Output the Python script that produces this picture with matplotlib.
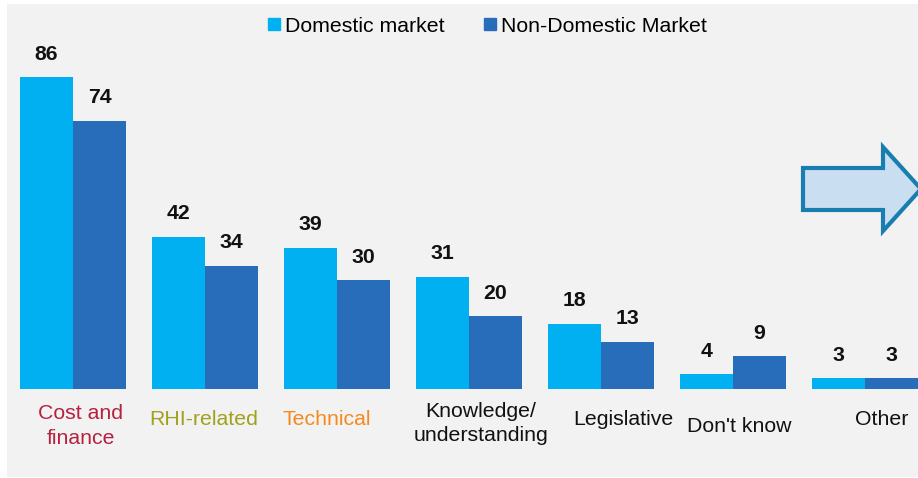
import matplotlib
matplotlib.use("Agg")
import matplotlib.pyplot as plt
from matplotlib.patches import Patch, Polygon
import numpy as np

plt.rcParams['font.family'] = ['Liberation Sans', 'DejaVu Sans']

categories = ["Cost and\nfinance", "RHI-related", "Technical", "Knowledge/\nunderstanding",
              "Legislative", "Don't know", "Other"]
domestic = [86, 42, 39, 31, 18, 4, 3]
non_domestic = [74, 34, 30, 20, 13, 9, 3]
series_names = ["Domestic market", "Non-Domestic Market"]

label_colors = ["#B5213F", "#A0A21C", "#F5891F", "#111111", "#111111", "#111111", "#111111"]
# label layout: (x offset in group units, y centre in data units)
label_layout = [(0.06, -10.2), (-0.01, -8.3), (-0.075, -8.3), (0.09, -9.6),
                (0.17, -8.3), (0.045, -10.2), (0.125, -8.3)]

W, H = 918, 478
fig = plt.figure(figsize=(W / 100, H / 100), dpi=100)
fig.patch.set_facecolor("white")

# panel in pixels: x 7..918, y 4..477
ax = fig.add_axes([7 / W, 1 - 477 / H, 911 / W, 473 / H])
ax.set_facecolor("#F2F2F2")
for s in ax.spines.values():
    s.set_visible(False)
ax.set_xticks([])
ax.set_yticks([])

scale = (389 - 77) / 86.0
ax.set_ylim(-(477 - 389) / scale, (389 - 4) / scale)
ax.set_xlim((7 - 73) / 132, (918 - 73) / 132)

x = np.arange(len(categories))
bw = 53 / 132
c1, c2 = "#00B0F0", "#286DBA"
b1 = ax.bar(x - bw / 2, domestic, bw, color=c1, edgecolor=c1, linewidth=0)
b2 = ax.bar(x + bw / 2, non_domestic, bw, color=c2, edgecolor=c2, linewidth=0)

fs = 15.3
for bars in (b1, b2):
    for r in bars:
        v = r.get_height()
        ax.annotate(f"{v:g}", (r.get_x() + r.get_width() / 2, v), xytext=(0, 16.5),
                    textcoords="offset points", ha="center", va="center",
                    fontsize=fs, fontweight="bold", color="#111111")

for i, (lab, col, (dx, yy)) in enumerate(zip(categories, label_colors, label_layout)):
    ax.text(i + dx, yy, lab, ha="center", va="center", fontsize=fs, color=col,
            linespacing=1.35)

handles = [Patch(facecolor=c1, edgecolor=c1), Patch(facecolor=c2, edgecolor=c2)]
ax.legend(handles, series_names, loc="center", bbox_to_anchor=(487.5 / W, 1 - 26 / H),
          bbox_transform=fig.transFigure, ncol=2, frameon=False, fontsize=fs,
          handlelength=0.55, handleheight=0.55, handletextpad=0.25, columnspacing=1.85,
          borderpad=0, borderaxespad=0)

# decorative block arrow
pts = [(803, 168), (883, 168), (883, 147), (921, 189), (883, 231), (883, 210), (803, 210)]
poly = Polygon([(px / W, 1 - py / H) for px, py in pts], closed=True,
               transform=fig.transFigure, facecolor="#CADEF2", edgecolor="#1A7DB0",
               linewidth=3.0, joinstyle="miter")
fig.patches.append(poly)

fig.savefig("out.png", dpi=100, facecolor=fig.get_facecolor())
